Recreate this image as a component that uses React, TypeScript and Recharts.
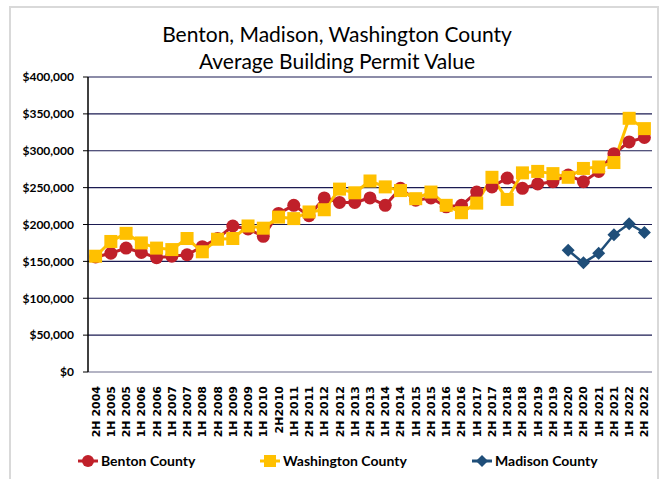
import { CartesianGrid, Line, LineChart, XAxis, YAxis } from "recharts";

const periods = [
  "2H 2004",
  "1H 2005", "2H 2005", "1H 2006", "2H 2006", "1H 2007", "2H 2007",
  "1H 2008", "2H 2008", "1H 2009", "2H 2009", "1H 2010", "2H2010",
  "1H 2011", "2H 2011", "1H 2012", "2H 2012", "1H 2013", "2H 2013",
  "1H 2014", "2H 2014", "1H 2015", "2H 2015", "1H 2016", "2H 2016",
  "1H 2017", "2H 2017", "1H 2018", "2H 2018", "1H 2019", "2H 2019",
  "1H 2020", "2H 2020", "1H 2021", "2H 2021", "1H 2022", "2H 2022",
];

const benton = [
  156000, 161000, 168000, 162000, 155000, 157000, 159000, 170000, 181000, 198000,
  194000, 184000, 215000, 226000, 212000, 236000, 230000, 230000, 236000, 226000,
  249000, 233000, 236000, 224000, 226000, 244000, 251000, 263000, 249000, 255000,
  258000, 267000, 258000, 272000, 296000, 312000, 318000,
];

const washington = [
  157000, 177000, 188000, 175000, 168000, 166000, 181000, 163000, 180000, 181000,
  198000, 195000, 210000, 208000, 217000, 220000, 248000, 243000, 259000, 251000,
  246000, 235000, 244000, 226000, 216000, 229000, 264000, 234000, 270000, 272000,
  269000, 264000, 276000, 278000, 284000, 344000, 330000,
];

const madison: (number | null)[] = [
  null, null, null, null, null, null, null, null, null, null,
  null, null, null, null, null, null, null, null, null, null,
  null, null, null, null, null, null, null, null, null, null,
  null, 165000, 148000, 161000, 186000, 201000, 189000,
];

const yTicks = [0, 50000, 100000, 150000, 200000, 250000, 300000, 350000, 400000];

const data = periods.map((p, i) => ({
  period: p,
  benton: benton[i],
  washington: washington[i],
  madison: madison[i],
}));

const RED = "#C0202A";
const GOLD = "#FFC000";
const BLUE = "#1F4E79";

const fmt = (v: number) => "$" + v.toLocaleString("en-US");

const XTick = (props: any) => {
  const { x, y, payload } = props;
  return (
    <g transform={`translate(${x},${y})`}>
      <text
        transform="rotate(-90)"
        x={-6}
        y={0}
        dy={4}
        textAnchor="end"
        fontFamily="DejaVu Sans"
        fontWeight="bold"
        fontSize={11}
        fill="#000"
      >
        {payload.value}
      </text>
    </g>
  );
};

const Square = (props: any) => {
  const { cx, cy } = props;
  if (cx == null || cy == null) return null;
  return <rect x={cx - 6.5} y={cy - 6.5} width={13} height={13} fill={GOLD} />;
};

const Diamond = (props: any) => {
  const { cx, cy, value } = props;
  if (cx == null || cy == null || value == null) return null;
  return (
    <path
      d={`M${cx},${cy - 6.5}L${cx + 6.5},${cy}L${cx},${cy + 6.5}L${cx - 6.5},${cy}Z`}
      fill={BLUE}
    />
  );
};

const legendItems = [
  { label: "Benton County", color: RED, shape: "circle", left: 76 },
  { label: "Washington County", color: GOLD, shape: "square", left: 258 },
  { label: "Madison County", color: BLUE, shape: "diamond", left: 470 },
];

const App = () => {
  return (
    <div style={{ position: "absolute", left: 0, top: 0, width: 661, height: 479, background: "#fff", overflow: "hidden" }}>
      <div
        style={{
          position: "absolute",
          left: 9,
          top: 6,
          width: 646,
          height: 480,
          borderTop: "2px solid #d9d9d9",
          borderLeft: "2px solid #d9d9d9",
          borderRight: "2px solid #d9d9d9",
        }}
      />
      <div
        style={{
          position: "absolute",
          left: 0,
          top: 20,
          width: 674,
          textAlign: "center",
          fontFamily: "Lato",
          fontSize: 21,
          lineHeight: "27px",
          color: "#000",
        }}
      >
        Benton, Madison, Washington County
        <br />
        Average Building Permit Value
      </div>
      <LineChart
        width={661}
        height={479}
        data={data}
        margin={{ top: 77, right: 9, bottom: 42, left: 0 }}
        style={{ position: "absolute", left: 0, top: 0 }}
      >
        <CartesianGrid vertical={false} stroke="#1b1b52" strokeWidth={1.2} />
        <XAxis
          dataKey="period"
          interval={0}
          tick={<XTick />}
          tickLine={false}
          axisLine={{ stroke: "#b4b4c4", strokeWidth: 2 }}
          padding={{ left: 7.6, right: 7.6 }}
          height={65}
        />
        <YAxis
          width={88}
          domain={[0, 400000]}
          ticks={yTicks}
          tickFormatter={fmt}
          tickSize={5}
          tickMargin={9}
          axisLine={{ stroke: "#000", strokeWidth: 1.5 }}
          tickLine={{ stroke: "#000" }}
          tick={{ fontFamily: "Lato", fontWeight: "bold", fontSize: 12, fill: "#000" }}
        />
        <Line
          dataKey="benton"
          stroke={RED}
          strokeWidth={3}
          dot={{ r: 6.5, fill: RED, stroke: RED, strokeWidth: 0 }}
          isAnimationActive={false}
        />
        <Line
          dataKey="washington"
          stroke={GOLD}
          strokeWidth={3}
          dot={<Square />}
          isAnimationActive={false}
        />
        <Line
          dataKey="madison"
          stroke={BLUE}
          strokeWidth={2.5}
          dot={<Diamond />}
          isAnimationActive={false}
        />
      </LineChart>
      {legendItems.map((it) => (
        <div
          key={it.label}
          style={{
            position: "absolute",
            left: it.left,
            top: 452,
            display: "flex",
            alignItems: "center",
            fontFamily: "Lato",
            fontWeight: "bold",
            fontSize: 14,
            color: "#000",
          }}
        >
          <svg width={24} height={14} style={{ marginRight: 1 }}>
            <line x1={2} y1={7} x2={22} y2={7} stroke={it.color} strokeWidth={3} />
            {it.shape === "circle" && <circle cx={12} cy={7} r={6} fill={it.color} />}
            {it.shape === "square" && <rect x={6} y={1} width={12} height={12} fill={it.color} />}
            {it.shape === "diamond" && <path d="M12,1L18,7L12,13L6,7Z" fill={it.color} />}
          </svg>
          {it.label}
        </div>
      ))}
    </div>
  );
};

export default App;
